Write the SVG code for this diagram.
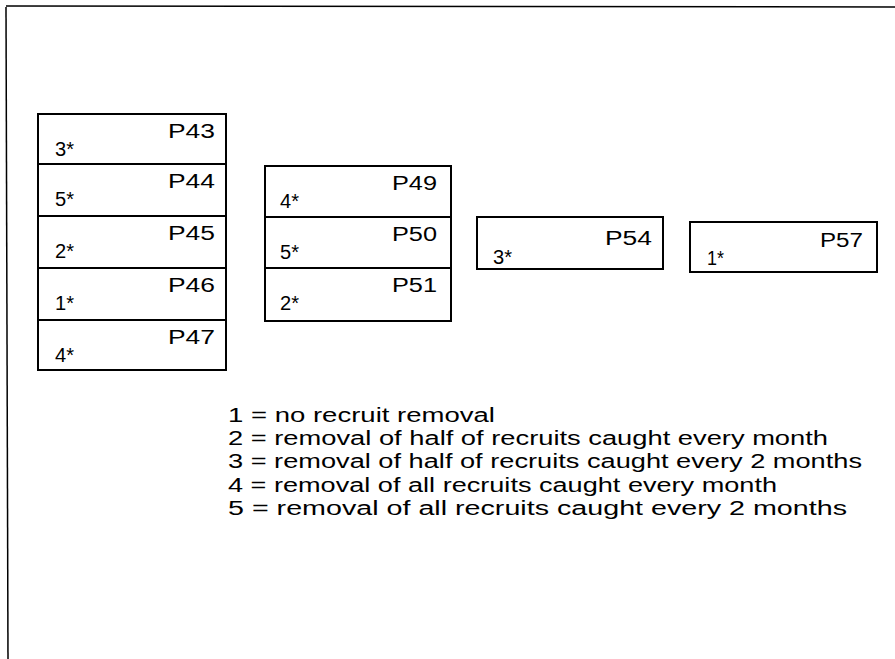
<svg xmlns="http://www.w3.org/2000/svg" width="895" height="659" viewBox="0 0 895 659">
<style>
  .frame { stroke: #000; stroke-width: 1.5; fill: none; }
  .box { fill: #fff; stroke: #000; stroke-width: 2; }
  .lbl { font-family: "Liberation Sans", Arial, sans-serif; font-size: 20px; fill: #000; }
  .pl { text-anchor: end; }
  .leg { font-family: "Liberation Sans", Arial, sans-serif; font-size: 20px; fill: #000; }
</style>
<rect x="0" y="0" width="895" height="659" fill="#fff"/>
<g id="frame">
  <line class="frame" x1="6" y1="7" x2="8" y2="659"/>
  <line class="frame" x1="6" y1="6" x2="895" y2="7"/>
</g>
<g id="column1">
  <g id="P43"><rect class="box" x="38" y="114" width="188" height="50"/><text class="lbl pl" x="215" y="138" textLength="47" lengthAdjust="spacingAndGlyphs">P43</text><text class="lbl" x="55" y="156" textLength="19" lengthAdjust="spacingAndGlyphs">3*</text></g>
  <g id="P44"><rect class="box" x="38" y="164" width="188" height="52"/><text class="lbl pl" x="215" y="188" textLength="47" lengthAdjust="spacingAndGlyphs">P44</text><text class="lbl" x="55" y="206" textLength="19" lengthAdjust="spacingAndGlyphs">5*</text></g>
  <g id="P45"><rect class="box" x="38" y="216" width="188" height="52"/><text class="lbl pl" x="215" y="240" textLength="47" lengthAdjust="spacingAndGlyphs">P45</text><text class="lbl" x="55" y="258" textLength="19" lengthAdjust="spacingAndGlyphs">2*</text></g>
  <g id="P46"><rect class="box" x="38" y="268" width="188" height="52"/><text class="lbl pl" x="215" y="292" textLength="47" lengthAdjust="spacingAndGlyphs">P46</text><text class="lbl" x="55" y="310" textLength="19" lengthAdjust="spacingAndGlyphs">1*</text></g>
  <g id="P47"><rect class="box" x="38" y="320" width="188" height="50"/><text class="lbl pl" x="215" y="344" textLength="47" lengthAdjust="spacingAndGlyphs">P47</text><text class="lbl" x="55" y="362" textLength="19" lengthAdjust="spacingAndGlyphs">4*</text></g>
</g>
<g id="column2">
  <g id="P49"><rect class="box" x="265" y="166" width="186" height="51"/><text class="lbl pl" x="437" y="190" textLength="45" lengthAdjust="spacingAndGlyphs">P49</text><text class="lbl" x="280" y="208" textLength="19" lengthAdjust="spacingAndGlyphs">4*</text></g>
  <g id="P50"><rect class="box" x="265" y="217" width="186" height="51"/><text class="lbl pl" x="437" y="241" textLength="45" lengthAdjust="spacingAndGlyphs">P50</text><text class="lbl" x="280" y="259" textLength="19" lengthAdjust="spacingAndGlyphs">5*</text></g>
  <g id="P51"><rect class="box" x="265" y="268" width="186" height="53"/><text class="lbl pl" x="437" y="292" textLength="45" lengthAdjust="spacingAndGlyphs">P51</text><text class="lbl" x="280" y="310" textLength="19" lengthAdjust="spacingAndGlyphs">2*</text></g>
</g>
<g id="P54"><rect class="box" x="477" y="217" width="186" height="52"/><text class="lbl pl" x="652" y="245" textLength="47" lengthAdjust="spacingAndGlyphs">P54</text><text class="lbl" x="493" y="264" textLength="19" lengthAdjust="spacingAndGlyphs">3*</text></g>
<g id="P57"><rect class="box" x="690" y="222" width="187" height="50"/><text class="lbl pl" x="863" y="247" textLength="43" lengthAdjust="spacingAndGlyphs">P57</text><text class="lbl" x="707" y="265" textLength="17" lengthAdjust="spacingAndGlyphs">1*</text></g>
<g id="connectors"></g>
<g id="legend">
  <text class="leg" x="228" y="422" textLength="267" lengthAdjust="spacingAndGlyphs">1 = no recruit removal</text>
  <text class="leg" x="228" y="445" textLength="600" lengthAdjust="spacingAndGlyphs">2 = removal of half of recruits caught every month</text>
  <text class="leg" x="228" y="468" textLength="634" lengthAdjust="spacingAndGlyphs">3 = removal of half of recruits caught every 2 months</text>
  <text class="leg" x="228" y="492" textLength="549" lengthAdjust="spacingAndGlyphs">4 = removal of all recruits caught every month</text>
  <text class="leg" x="228" y="515" textLength="619" lengthAdjust="spacingAndGlyphs">5 = removal of all recruits caught every 2 months</text>
</g>
</svg>
